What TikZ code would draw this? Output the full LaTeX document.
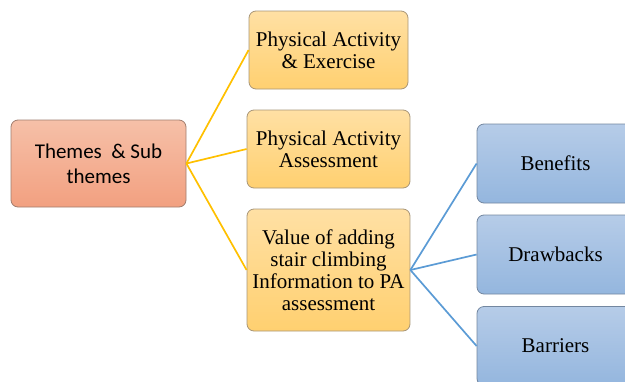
\documentclass[tikz,border=0pt]{standalone}
\usepackage{fontspec}
\setmainfont{Liberation Serif}
\newfontfamily\calfont{Carlito}
\usepackage{xcolor}
\definecolor{rootTop}{RGB}{246,192,168}
\definecolor{rootBot}{RGB}{242,160,128}
\definecolor{rootEdge}{RGB}{160,125,110}
\definecolor{ylwTop}{RGB}{255,224,164}
\definecolor{ylwBot}{RGB}{255,208,112}
\definecolor{ylwEdge}{RGB}{168,150,120}
\definecolor{bluTop}{RGB}{182,204,232}
\definecolor{bluBot}{RGB}{148,182,222}
\definecolor{bluEdge}{RGB}{115,135,160}
\definecolor{ylwLine}{RGB}{255,192,0}
\definecolor{bluLine}{RGB}{91,155,213}
\usetikzlibrary{positioning}

\begin{document}
\begin{tikzpicture}[x=1pt,y=-1pt,
  rootbox/.style={draw=rootEdge,rounded corners=7pt,top color=rootTop,bottom color=rootBot,line width=0.8pt,minimum width=175pt,minimum height=87pt,align=center,font=\calfont\fontsize{21}{25}\selectfont},
  themebox/.style={draw=ylwEdge,rounded corners=7pt,top color=ylwTop,bottom color=ylwBot,line width=0.8pt,minimum width=163pt,minimum height=78pt,align=center,font=\fontsize{21}{22}\selectfont},
  subbox/.style={draw=bluEdge,rounded corners=7pt,top color=bluTop,bottom color=bluBot,line width=0.8pt,minimum width=157pt,minimum height=79pt,align=center,font=\fontsize{21}{22}\selectfont},
  yline/.style={line width=1.7pt,color=ylwLine},
  bline/.style={line width=1.7pt,color=bluLine}
]
\useasboundingbox (0,0) rectangle (625,381);
\clip (0,0) rectangle (625,381);

\node[rootbox] (root) at (98.5,163.5) {Themes\ \ \& Sub\\themes};
\node[themebox,minimum width=159pt] (exercise) at (328.5,50) {Physical Activity\\\& Exercise};
\node[themebox] (assess) at (328.5,149) {Physical Activity\\Assessment};
\node[themebox,minimum height=122pt] (stairs) at (328.5,270) {Value of adding\\stair climbing\\Information to PA\\assessment};
\node[subbox] (benefits) at (555.5,163.5) {Benefits};
\node[subbox] (drawbacks) at (555.5,254.5) {Drawbacks};
\node[subbox] (barriers) at (555.5,346) {Barriers};

% connectors
\draw[yline] (root.east) -- (exercise.west);
\draw[yline] (root.east) -- (assess.west);
\draw[yline] (root.east) -- (stairs.west);
\draw[bline] (stairs.east) -- (benefits.west);
\draw[bline] (stairs.east) -- (drawbacks.west);
\draw[bline] (stairs.east) -- (barriers.west);
\end{tikzpicture}
\end{document}
